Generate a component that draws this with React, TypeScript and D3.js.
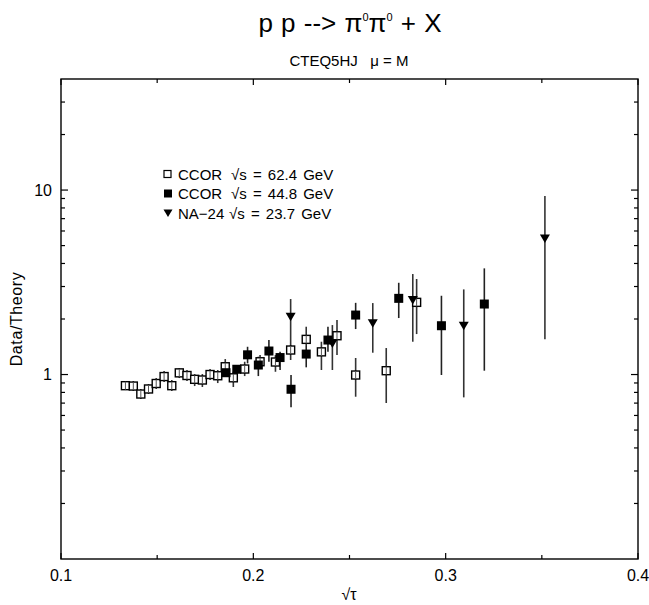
import React from "react";
import * as d3 from "d3";

// CCOR sqrt(s) = 62.4 GeV (open squares)
const ccor62X = [0.1335, 0.1376, 0.1415, 0.1455, 0.1495, 0.1536, 0.1576, 0.1615, 0.1655, 0.1695, 0.1735, 0.1775, 0.1815, 0.1854, 0.1896, 0.1955, 0.2035, 0.2115, 0.2194, 0.2275, 0.2354, 0.2435, 0.2532, 0.2691, 0.2849];
const ccor62Y = [0.870, 0.866, 0.784, 0.835, 0.894, 0.975, 0.870, 1.021, 0.988, 0.942, 0.934, 1.0, 0.985, 1.102, 0.960, 1.071, 1.173, 1.169, 1.358, 1.551, 1.327, 1.623, 0.994, 1.049, 2.462];
const ccor62Lo = [0.824, 0.814, 0.737, 0.784, 0.835, 0.911, 0.814, 0.957, 0.922, 0.866, 0.856, 0.934, 0.899, 1.032, 0.856, 0.981, 1.085, 1.035, 1.199, 1.445, 1.058, 1.275, 0.758, 0.701, 1.657];
const ccor62Hi = [0.922, 0.922, 0.835, 0.888, 0.957, 1.044, 0.934, 1.085, 1.058, 1.006, 1.006, 1.071, 1.058, 1.213, 1.035, 1.173, 1.275, 1.275, 1.445, 1.816, 1.506, 1.974, 1.229, 1.392, 3.295];

// CCOR sqrt(s) = 44.8 GeV (filled squares)
const ccor44X = [0.1858, 0.1914, 0.197, 0.2026, 0.2081, 0.2139, 0.2196, 0.2275, 0.2388, 0.2532, 0.2756, 0.2978, 0.3201];
const ccor44Y = [1.023, 1.068, 1.279, 1.126, 1.341, 1.236, 0.832, 1.291, 1.538, 2.101, 2.588, 1.839, 2.411];
const ccor44Lo = [0.969, 1.019, 1.150, 0.981, 1.173, 1.058, 0.664, 1.094, 1.329, 1.764, 2.024, 0.994, 1.049];
const ccor44Hi = [1.085, 1.126, 1.414, 1.249, 1.538, 1.329, 0.994, 1.445, 1.816, 2.447, 3.143, 2.673, 3.763];

// NA-24 sqrt(s) = 23.7 GeV (filled triangles)
const na24X = [0.2194, 0.2411, 0.2621, 0.2829, 0.3094, 0.3516];
const na24Y = [2.057, 1.472, 1.895, 2.534, 1.839, 5.46];
const na24Lo = [1.42, 1.058, 1.313, 1.506, 0.752, 1.552];
const na24Hi = [2.566, 1.854, 2.44, 3.506, 2.894, 9.29];

const xMajor = [0.1, 0.2, 0.3, 0.4];
const xMinor = [0.15, 0.25, 0.35];
const yMajor = [1, 10];
const yMinor = [0.2, 0.3, 0.4, 0.5, 0.6, 0.7, 0.8, 0.9, 2, 3, 4, 5, 6, 7, 8, 9, 20, 30];

const legendLabels = ["CCOR", "CCOR", "NA\u221224"];
const legendEnergies = ["\u221As = 62.4 GeV", "\u221As = 44.8 GeV", "\u221As = 23.7 GeV"];

const W = 649;
const H = 605;
const L = 61, R = 638, T = 79, B = 559;
const FONT = "'Liberation Sans', Arial, Helvetica, sans-serif";

export default function App() {
  const x = d3.scaleLinear().domain([0.1, 0.4]).range([L, R]);
  const y = d3.scaleLog().domain([0.1, 40]).range([B, T]);

  const tri = (cx: number, cy: number, s: number) =>
    `M${cx - s},${cy - s * 0.8} L${cx + s},${cy - s * 0.8} L${cx},${cy + s * 0.9} Z`;

  const errBars = (xs: number[], lo: number[], hi: number[], key: string, color: string) =>
    xs.map((v, i) => (
      <line key={key + i} x1={x(v)} x2={x(v)} y1={y(lo[i])} y2={y(hi[i])} stroke={color} strokeWidth={1.6} />
    ));

  return (
    <svg width={W} height={H} style={{ display: "block", position: "absolute", left: 0, top: 0, background: "#fff" }} fontFamily={FONT}>
      <rect x={0} y={0} width={W} height={H} fill="#fff" />
      {/* Title */}
      <text x={350} y={32} textAnchor="middle" fontSize={26} fill="#000" wordSpacing={1}>
        p p --&gt; π<tspan fontSize={11} dy={-11}>0</tspan><tspan dy={11}>π</tspan><tspan fontSize={11} dy={-11}>0</tspan><tspan dy={11}> + X</tspan>
      </text>
      <text x={349} y={66} textAnchor="middle" fontSize={15} fill="#000">
        CTEQ5HJ{"\u00a0\u00a0\u00a0"}μ = M
      </text>

      {/* Frame */}
      <rect x={L} y={T} width={R - L} height={B - T} fill="none" stroke="#000" strokeWidth={1.4} />

      {/* X ticks */}
      {xMajor.map((v) => (
        <g key={"xm" + v}>
          <line x1={x(v)} x2={x(v)} y1={B} y2={B - 6} stroke="#000" strokeWidth={1.2} />
          <line x1={x(v)} x2={x(v)} y1={T} y2={T + 6} stroke="#000" strokeWidth={1.2} />
          <text x={x(v)} y={581} textAnchor="middle" fontSize={16} fill="#000">{v.toFixed(1)}</text>
        </g>
      ))}
      {xMinor.map((v) => (
        <g key={"xn" + v}>
          <line x1={x(v)} x2={x(v)} y1={B} y2={B - 4} stroke="#000" strokeWidth={1.2} />
          <line x1={x(v)} x2={x(v)} y1={T} y2={T + 4} stroke="#000" strokeWidth={1.2} />
        </g>
      ))}

      {/* Y ticks */}
      {yMajor.map((v) => (
        <g key={"ym" + v}>
          <line x1={L} x2={L + 7} y1={y(v)} y2={y(v)} stroke="#000" strokeWidth={1.2} />
          <line x1={R} x2={R - 7} y1={y(v)} y2={y(v)} stroke="#000" strokeWidth={1.2} />
          <text x={52} y={y(v) + 5.5} textAnchor="end" fontSize={16} fill="#000">{v}</text>
        </g>
      ))}
      {yMinor.map((v) => (
        <g key={"yn" + v}>
          <line x1={L} x2={L + 4} y1={y(v)} y2={y(v)} stroke="#000" strokeWidth={1.2} />
          <line x1={R} x2={R - 4} y1={y(v)} y2={y(v)} stroke="#000" strokeWidth={1.2} />
        </g>
      ))}

      {/* Axis titles */}
      <text x={349} y={600} textAnchor="middle" fontSize={16} fill="#000">√τ</text>
      <text transform={`translate(22,319) rotate(-90)`} textAnchor="middle" fontSize={16} letterSpacing={0.6} fill="#000">Data/Theory</text>

      {/* Error bars */}
      {errBars(ccor62X, ccor62Lo, ccor62Hi, "e62", "#333")}
      {errBars(ccor44X, ccor44Lo, ccor44Hi, "e44", "#222")}
      {errBars(na24X, na24Lo, na24Hi, "e24", "#333")}

      {/* Markers */}
      {ccor62X.map((v, i) => (
        <g key={"m62" + i}>
          <rect x={x(v) - 4} y={y(ccor62Y[i]) - 4} width={8} height={8} fill="#fff" stroke="#000" strokeWidth={1.4} />
          <line x1={x(v)} x2={x(v)} y1={y(ccor62Y[i]) - 4} y2={y(ccor62Y[i]) + 4} stroke="#555" strokeWidth={1} />
        </g>
      ))}
      {ccor44X.map((v, i) => (
        <rect key={"m44" + i} x={x(v) - 4.5} y={y(ccor44Y[i]) - 4.5} width={9} height={9} fill="#000" />
      ))}
      {na24X.map((v, i) => (
        <path key={"m24" + i} d={tri(x(v), y(na24Y[i]), 5)} fill="#000" />
      ))}

      {/* Legend */}
      {legendLabels.map((lab, i) => {
        const ly = 174 + i * 19.5;
        return (
          <g key={"lg" + i}>
            {i === 0 && <rect x={164} y={ly - 3.5} width={7} height={7} fill="#fff" stroke="#000" strokeWidth={1.2} />}
            {i === 1 && <rect x={164} y={ly - 4} width={8} height={8} fill="#000" />}
            {i === 2 && <path d={tri(168, ly, 4.5)} fill="#000" />}
            <text x={178} y={ly + 5.5} fontSize={15} fill="#000">{lab}</text>
            <text x={i === 2 ? 229 : 231} y={ly + 5.5} fontSize={15} wordSpacing={2} fill="#000">{legendEnergies[i]}</text>
          </g>
        );
      })}
    </svg>
  );
}
